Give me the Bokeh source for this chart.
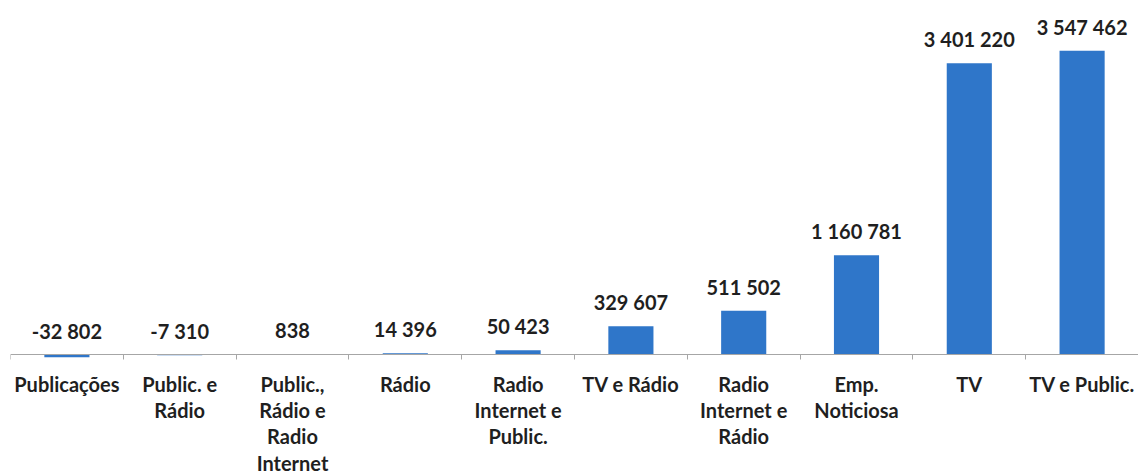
from bokeh.plotting import figure
from bokeh.models import ColumnDataSource, Range1d, FixedTicker
from bokeh.core.properties import value
from bokeh.embed import file_html
from bokeh.resources import INLINE

categories = ["Publicações", "Public. e\nRádio", "Public.,\nRádio e\nRadio\nInternet", "Rádio",
              "Radio\nInternet e\nPublic.", "TV e Rádio", "Radio\nInternet e\nRádio",
              "Emp.\nNoticiosa", "TV", "TV e Public."]
values = [-32802, -7310, 838, 14396, 50423, 329607, 511502, 1160781, 3401220, 3547462]
value_labels = ["-32 802", "-7 310", "838", "14 396", "50 423", "329 607", "511 502",
                "1 160 781", "3 401 220", "3 547 462"]

xs = list(range(len(categories)))
src = ColumnDataSource(dict(
    x=xs, top=values, lab=value_labels, cat=categories,
    ly=[max(v, 0) for v in values], zero=[0] * len(values)))

FONT = value("Lato")
p = figure(width=1138, height=476, output_backend="svg", toolbar_location=None,
           x_range=Range1d(-0.5, len(categories) - 0.5),
           y_range=Range1d(-1.4252e6, 4.1355e6),
           min_border_left=10, min_border_right=0, min_border_top=0, min_border_bottom=0)
p.outline_line_color = None
p.grid.visible = False
p.yaxis.visible = False
p.background_fill_color = "white"

p.vbar(x="x", top="top", bottom=0, width=0.4, source=src, color="#2f76c9", line_color=None)

ax = p.xaxis[0]
ax.fixed_location = 0
ax.ticker = FixedTicker(ticks=[i - 0.5 for i in range(len(categories) + 1)])
ax.major_label_text_font_size = "0px"
ax.major_label_text_alpha = 0
ax.axis_line_color = "#a6a6a6"
ax.major_tick_line_color = "#a6a6a6"
ax.major_tick_out = 5
ax.major_tick_in = 0
ax.minor_tick_line_color = None

p.text(x="x", y="ly", text="lab", source=src, text_font=FONT, text_font_style="bold",
       text_font_size="20px", text_color="#1f1f1f", text_align="center",
       text_baseline="middle", y_offset=-24)

p.text(x="x", y="zero", text="cat", source=src, text_font=FONT, text_font_style="bold",
       text_font_size="20px", text_color="#1f1f1f", text_align="center",
       text_baseline="top", y_offset=17, text_line_height=1.1)

open("out.html", "w").write(file_html(p, INLINE))
